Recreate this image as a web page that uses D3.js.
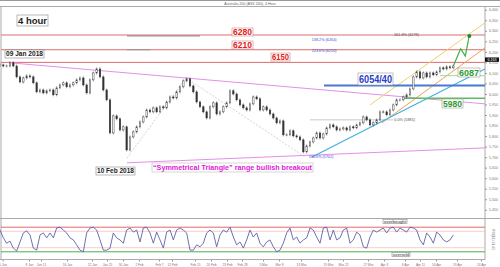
<!DOCTYPE html>
<html><head><meta charset="utf-8">
<script src="https://cdn.jsdelivr.net/npm/d3@7"></script>
<style>body{margin:0;background:#fff}svg{display:block}text{font-family:Arial,"Liberation Sans",sans-serif}</style>
</head><body><svg id="c" width="500" height="267"></svg>
<script>
// ---- data ----
const closes = [6138,6133,6133,6148,6133,6081,6057,6076,6086,6081,6053,6010,6019,6005,6015,6019,5996,6029,6043,6053,
6034,6043,6053,6067,6076,6043,6005,6067,6100,6119,6081,6019,5972,5815,5896,5882,5829,5844,5734,5796,
5820,5844,5867,5891,5924,5915,5934,5915,5939,5934,5962,5986,5981,6010,6034,6062,6072,6038,6010,5962,
5939,5915,5886,5939,5958,5905,5915,5939,5958,6015,6000,5972,5948,5934,5924,5953,5986,5977,5924,5939,
5924,5905,5886,5863,5872,5806,5806,5825,5801,5796,5782,5725,5753,5772,5791,5815,5791,5810,5839,5853,
5844,5829,5834,5839,5829,5844,5839,5853,5863,5891,5877,5853,5863,5877,5915,5915,5901,5924,5948,5972,
5972,5986,5996,6024,6081,6105,6076,6100,6081,6100,6091,6105,6124,6119,6129,6124,6133];
const rsi = [73,54,41,46,29,22,44,66,71,61,29,24,61,66,54,66,54,78,80,73,
66,54,49,37,24,20,66,78,80,73,49,24,24,29,66,54,49,41,73,78,
68,73,44,78,80,66,41,68,49,29,68,73,49,73,78,73,66,24,24,37,
32,41,66,73,66,32,61,73,68,80,56,37,44,29,49,
73,56,66,41,32,44,49,32,20,24,41,66,78,49,56,41,49,54,78,73,
56,41,78,80,49,73,49,54,73,78,41,49,68,61,32,29,56,73,68,73,
78,66,78,80,68,78,73,68,80,78,73,49,37,66,56,41,68,61,49,44,49,61];
const priceTicks = [6400,6350,6300,6250,6200,6150,6100,6050,6000,5950,5900,5850,5800,5750,5700,5650,5600,5550,5500,5450];
const dateLabels = ["5 Jan","8 Jan","Jan 11","16 Jan","22 Jan","Jan 25","30 Jan","2 Feb","Feb 7","12 Feb","Feb 15","20 Feb",
"23 Feb","Feb 28","5 Mar","Mar 8","13 Mar","19 Mar","Mar 22","27 Mar","Apr 3","6 Apr","Apr 11","16 Apr","19 Apr","24 Apr"];
const dateTickIdx = [0.8,8.7,12.3,20.1,27.6,32.1,36.9,41.7,47.7,51.6,58.5,63.3,68.1,72.6,78.9,83.7,90.3,98.4,102.9,110.4,115.2,121.5,126,130.8,137.1,144.3];
const resistLevels = [6280,6210,6150];
const level6040 = 6040, level5980 = 5980, level6087 = 6087, currentPrice = 6163;
const triUpper = [[3,6148],[145.5,5953]];
const triLower = [[38.1,5673],[145.5,5744]];
const fibLeg1 = [[38.1,5696],[55.8,6076]];
const fibLeg2 = [[55.8,6076],[91.5,5701]];
const channelUpper = [[111,5948],[145.5,6338]];
const channelMid = [[114.6,5863],[145.5,6219]];
const supportLine = [[93.6,5701],[145.5,6119]];
const projection = [[136,6133],[138.2,6215],[139.6,6180],[140.8,6280]];
const fibTexts = [
  {t:"138.2% (6264)", i:93.5, v:6258, c:"#4a4ad0"},
  {t:"161.8% (6278)", i:118.2, v:6282, c:"#555"},
  {t:"123.6% (6210)", i:93.5, v:6207, c:"#4a4ad0"},
  {t:"0.0% (5881)", i:118.3, v:5876, c:"#555"},
  {t:"100.0% (5702)", i:92.6, v:5703, c:"#4a4ad0"}
];
const rsiLevels = [80,70,30,20];

// ---- layout ----
const svg = d3.select("#c");
const L = 1, R = 485, T = 7, B = 218, RT = 219, RB = 260;
const x = d3.scaleLinear().domain([0,145.5]).range([0,R]);
const y = d3.scaleLinear().domain([5411,6413]).range([B,T]);
const yr = d3.scaleLinear().domain([0,100]).range([RB,RT]);

// frame
svg.append("line").attr("x1",0).attr("x2",500).attr("y1",0.5).attr("y2",0.5).attr("stroke","#999");
svg.append("line").attr("x1",0).attr("x2",500).attr("y1",6.5).attr("y2",6.5).attr("stroke","#aaa");
svg.append("text").attr("x",250).attr("y",5).attr("text-anchor","middle").attr("font-size",3.6).attr("fill","#666").text("Australia 200 (ASX 200), 4 Hour");
svg.append("line").attr("x1",L).attr("x2",L).attr("y1",T).attr("y2",RB).attr("stroke","#aaa");
svg.append("line").attr("x1",R).attr("x2",R).attr("y1",T).attr("y2",RB).attr("stroke","#aaa");
svg.append("line").attr("x1",0).attr("x2",500).attr("y1",B+0.5).attr("y2",B+0.5).attr("stroke","#aaa");
svg.append("line").attr("x1",0).attr("x2",R).attr("y1",RB-0.5).attr("y2",RB-0.5).attr("stroke","#aaa");

// right axis
const ax = svg.append("g").attr("transform",`translate(${R},0)`)
  .call(d3.axisRight(y).tickValues(priceTicks).tickSize(2).tickFormat(d3.format(",")));
ax.select(".domain").remove();
ax.selectAll("line").attr("stroke","#999");
ax.selectAll("text").attr("font-size",3.6).attr("fill","#777").attr("x",4);

// date axis
const dx = svg.append("g").attr("transform",`translate(0,${RB})`)
  .call(d3.axisBottom(x).tickValues(dateTickIdx).tickSize(1.5).tickFormat((d,i)=>dateLabels[i]));
dx.select(".domain").remove();
dx.selectAll("line").attr("stroke","#999");
dx.selectAll("text").attr("font-size",3.2).attr("fill","#777").attr("dy",1.5);

const line = d3.line().x(d=>x(d[0])).y(d=>y(d[1]));
function seg(pts, col, w, dash){
  svg.append("path").attr("d",line(pts)).attr("fill","none").attr("stroke",col).attr("stroke-width",w).attr("stroke-dasharray",dash||null);
}

// horizontal resistance lines
resistLevels.forEach(v=>{
  svg.append("line").attr("x1",L).attr("x2",R).attr("y1",y(v)).attr("y2",y(v)).attr("stroke","#e06a6a").attr("stroke-width",1);
});
// fib segments (gray) near top
seg([[38.1,6276],[60,6276]],"#a09088",1.2);
seg([[38.1,6210],[45,6210]],"#a09088",1);
seg([[93,5877],[118,5877]],"#bbb",0.8);

// trendlines
seg(triUpper,"#e590e5",1);
seg(triLower,"#e590e5",1);
seg(fibLeg1,"#c0c0c0",0.7,"2,1.5");
seg(fibLeg2,"#c0c0c0",0.7,"2,1.5");
seg(channelUpper,"#f0d070",1);
seg(channelMid,"#f0a050",1);
seg(supportLine,"#40b0e0",1.1);

// support levels
svg.append("line").attr("x1",x(97.2)).attr("x2",R).attr("y1",y(level6040)).attr("y2",y(level6040)).attr("stroke","#4a78d0").attr("stroke-width",2);
svg.append("line").attr("x1",x(121)).attr("x2",R).attr("y1",y(level5980)).attr("y2",y(level5980)).attr("stroke","#5cbf5c").attr("stroke-width",1.5);
svg.append("line").attr("x1",x(132)).attr("x2",R).attr("y1",y(level6087)).attr("y2",y(level6087)).attr("stroke","#9fd89f").attr("stroke-width",1);

// candles
const cg = svg.append("g");
closes.forEach((c,i)=>{
  const o = i>0 ? closes[i-1] : c;
  const up = c>=o;
  const top = y(Math.max(o,c)), bot = y(Math.min(o,c));
  cg.append("line").attr("x1",x(i)).attr("x2",x(i)).attr("y1",top-1.5).attr("y2",bot+1.5).attr("stroke","#333").attr("stroke-width",0.5);
  cg.append("rect").attr("x",x(i)-0.75).attr("y",top).attr("width",1.5).attr("height",Math.max(0.7,bot-top))
    .attr("fill",up?"#fff":"#333").attr("stroke","#333").attr("stroke-width",0.45);
});

// projection
seg(projection,"#3cb043",1.2);
const pe = projection[projection.length-1];
svg.append("circle").attr("cx",x(pe[0])).attr("cy",y(pe[1])+1).attr("r",2).attr("fill","#1e8a2e");

// current price box
svg.append("rect").attr("x",R).attr("y",y(currentPrice)-2.2).attr("width",14).attr("height",4.4).attr("fill","#111");
svg.append("text").attr("x",R+7).attr("y",y(currentPrice)+1.3).attr("text-anchor","middle").attr("font-size",3.6).attr("fill","#fff").text("6,163");

// fib texts
fibTexts.forEach(f=>{
  svg.append("text").attr("x",x(f.i)).attr("y",y(f.v)+1.3).attr("font-size",3.8).attr("fill",f.c).text(f.t);
});

// label boxes
function box(x0,y0,w,h,txt,col,fs,bold,border){
  svg.append("rect").attr("x",x0).attr("y",y0).attr("width",w).attr("height",h).attr("fill","#fff").attr("stroke",border||"#999").attr("stroke-width",0.6);
  svg.append("text").attr("x",x0+w/2).attr("y",y0+h/2+fs*0.36).attr("text-anchor","middle").attr("font-size",fs)
    .attr("font-weight",bold?"bold":"normal").attr("fill",col).attr("textLength",w-2).attr("lengthAdjust","spacingAndGlyphs").text(txt);
}
box(17,15,31,11,"4 hour","#222",9,true,"#888");
box(232,28,21,8,"6280","#e02020",8.5,true,"#c88");
box(232,41,21,8,"6210","#e02020",8.5,true,"#c88");
box(271,53,19,8,"6150","#e02020",8.5,true,"#c88");
box(5,50,39,8,"09 Jan 2018","#222",6.5,true,"#888");
box(96,167,39,8,"10 Feb 2018","#222",6.5,true,"#888");
box(152,163,161,9,"\u201cSymmetrical Triangle\u201d range bullish breakout","#e020d8",7.5,true,"#bbb");
box(358,73,35,12,"6054/40","#2a3fc8",10,true,"#999");
box(458,68,22,9,"6087","#2e9a2e",9,true,"#999");
box(442,99,21,9,"5980","#2e9a2e",9,true,"#999");

// RSI panel
const rsiCol = {80:"#e06a6a",70:"#f2b8b8",30:"#f2b8b8",20:"#4cb04c"};
rsiLevels.forEach(v=>{
  svg.append("line").attr("x1",L).attr("x2",R).attr("y1",yr(v)).attr("y2",yr(v)).attr("stroke",rsiCol[v]).attr("stroke-width",v===80||v===20?1:0.7);
});
svg.append("path").attr("d",d3.line().x((d,i)=>x(i)).y(d=>yr(d))(rsi)).attr("fill","none").attr("stroke","#6060a8").attr("stroke-width",0.9);
box(383,219.5,24,4,"overbought","#333",3.5,false,"#888");
box(392,252.5,18,4,"oversold","#333",3.5,false,"#888");
svg.append("text").attr("transform",`translate(492,${(RT+RB)/2}) rotate(90)`).attr("text-anchor","middle").attr("font-size",3.4).attr("fill","#777").text("RSI(14) 61.45");
</script></body></html>
